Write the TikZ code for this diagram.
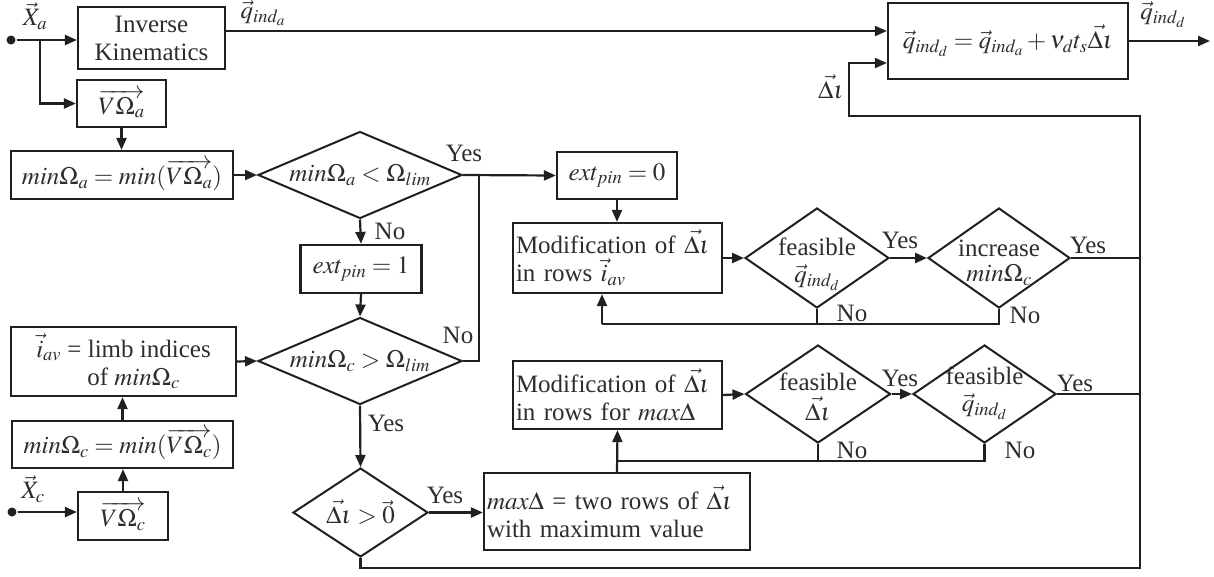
\documentclass[tikz,border=0pt]{standalone}
\usepackage{mathptmx}
\usepackage{fontspec}
\setmainfont{Liberation Serif}
\usetikzlibrary{arrows.meta,shapes.geometric,calc}
\definecolor{ln}{RGB}{35,31,32}
\definecolor{tx}{RGB}{45,45,45}
\newcommand\myfs{\fontsize{25}{28}\selectfont}
\begin{document}
\begin{tikzpicture}[x=1pt,y=-1pt,line width=2.2pt,
  box/.style={draw=ln,rectangle,inner sep=0pt,align=center,font=\myfs,text=tx},
  lbox/.style={box,align=left,text width=#1},
  dia/.style={draw=ln,diamond,inner sep=0pt,line width=2pt},
  lbl/.style={font=\myfs,text=tx,inner sep=0pt,align=center},
  arr/.style={draw=ln,-{Triangle[length=12pt,width=10pt]}},
  ln/.style={draw=ln},
  dot/.style={circle,fill=ln,inner sep=0pt,minimum size=9pt}]
\useasboundingbox (0,0) rectangle (1214,576);
% boxes
\node[box,minimum width=147pt,minimum height=62pt] (ik) at (151.5,38) {Inverse\\Kinematics};
\node[box,minimum width=89pt,minimum height=47pt] (voa) at (121.5,103.5) {$\overrightarrow{V\Omega_a}$};
\node[box,minimum width=222pt,minimum height=48pt] (minoa) at (122,175) {$min\Omega_a = min(\overrightarrow{V\Omega_a})$};
\node[box,minimum width=121pt,minimum height=48pt] (ext1) at (361,269) {$ext_{pin} = 1$};
\node[box,minimum width=225pt,minimum height=69pt] (iav) at (123.5,361.5) {$\vec{i}_{av}$ = limb indices\\\hspace*{20pt}of $min\Omega_c$};
\node[box,minimum width=221pt,minimum height=47pt] (minoc) at (122.5,444.5) {$min\Omega_c = min(\overrightarrow{V\Omega_c})$};
\node[box,minimum width=90pt,minimum height=48pt] (voc) at (123,516) {$\overrightarrow{V\Omega_c}$};
\node[box,minimum width=120pt,minimum height=47pt] (ext0) at (617,175.5) {$ext_{pin} = 0$};
\node[lbox=203pt,minimum width=209pt,minimum height=70pt] (mod1) at (617.5,258) {Modification of $\vec{\Delta\iota}$\\in rows $\vec{i}_{av}$};
\node[lbox=203pt,minimum width=209pt,minimum height=68pt] (mod2) at (617.5,395) {Modification of $\vec{\Delta\iota}$\\in rows for $max\Delta$};
\node[lbox=260pt,minimum width=266pt,minimum height=77pt] (maxd) at (617,511.5) {$max\Delta$ = two rows of $\vec{\Delta\iota}$\\with maximum value};
\node[box,minimum width=240pt,minimum height=76pt] (fin) at (1008,41) {$\vec{q}_{ind_d} = \vec{q}_{ind_a} + \nu_d t_s \vec{\Delta\iota}$};
% diamonds
\node[dia,minimum width=204pt,minimum height=87pt] (d1) at (360,175) {};
\node[lbl] at (d1) {$min\Omega_a < \Omega_{lim}$};
\node[dia,minimum width=204pt,minimum height=87pt] (d2) at (360,361) {};
\node[lbl] at (d2) {$min\Omega_c > \Omega_{lim}$};
\node[dia,minimum width=135pt,minimum height=89pt] (d3) at (360.5,512.5) {};
\node[lbl] at (d3) {$\vec{\Delta\iota} > \vec{0}$};
\node[dia,minimum width=144pt,minimum height=100pt] (f1) at (817,258) {};
\node[lbl] at ($(f1)+(0,6)$) {feasible\\[-1pt]$\vec{q}_{ind_d}$};
\node[dia,minimum width=142pt,minimum height=100pt] (inc) at (999,258) {};
\node[lbl] at ($(inc)+(0,5)$) {increase\\[-3pt]$min\Omega_c$};
\node[dia,minimum width=145pt,minimum height=98pt] (f2) at (818,394) {};
\node[lbl] at ($(f2)+(0,3)$) {feasible\\[2pt]$\vec{\Delta\iota}$};
\node[dia,minimum width=143pt,minimum height=98pt] (f3) at (984.5,394) {};
\node[lbl] at ($(f3)+(0,-1)$) {feasible\\[-1pt]$\vec{q}_{ind_d}$};
% dots
\node[dot] (xa) at (11,40) {};
\node[dot] (xc) at (12,512) {};
% coordinates
\coordinate (br) at (40,40);
\coordinate (y31) at (0,31);
\coordinate (out) at (1210,41);
\coordinate (j1) at (479,175);
\coordinate (r1) at (1140,258);
\coordinate (r2) at (1140,394);
\coordinate (c1) at (1140,568);
\coordinate (c2) at (1140,116);
\coordinate (c3) at (849,63);
\coordinate (n1) at (602,324);
\coordinate (n2) at (617,461);
% connectors
\draw[arr] (xa) -- (xa -| ik.west);
\draw[arr] (br) |- (voa.west);
\draw[arr] (voa.south) -- (voa.south |- minoa.north);
\draw[arr] (minoa.east) -- (d1.west);
\draw[arr] (d1.east) -- (ext0.west);
\draw[arr] (d1.south) -- (ext1.north);
\draw[arr] (ext1.south) -- (d2.north);
\draw[ln] (d2.east) -| (j1);
\draw[arr] (iav.east) -- (d2.west);
\draw[arr] (minoc.north) -- (minoc.north |- iav.south);
\draw[arr] (voc.north) -- (voc.north |- minoc.south);
\draw[arr] (xc) -- (xc -| voc.west);
\draw[arr] (d2.south) -- (d3.north);
\draw[arr] (d3.east) -- (d3.east -| maxd.west);
\draw[arr] (ik.east |- y31) -- (fin.west |- y31);
\draw[arr] (fin.east) -- (out);
\draw[arr] (ext0.south) -- (ext0.south |- mod1.north);
\draw[arr] (mod1.east) -- (f1.west);
\draw[arr] (f1.east) -- (inc.west);
\draw[ln] (inc.east) -- (r1);
\draw[ln] (inc.south) |- (n1);
\draw[arr] (n1) -- (n1 |- mod1.south);
\draw[ln] (f1.south) -- (f1.south |- n1);
\draw[arr] (mod2.east) -- (f2.west);
\draw[arr] (f2.east) -- (f3.west);
\draw[ln] (f3.east) -- (r2);
\draw[ln] (f3.south) |- (n2);
\draw[ln] (f2.south) -- (f2.south |- n2);
\draw[arr] (maxd.north) -- (mod2.south);
\draw[arr] (d3.south) |- (c1) -- (c2) -| (c3) -- (c3 -| fin.west);
% labels
\node[lbl] at (35,16) {$\vec{X}_a$};
\node[lbl] at (33,489) {$\vec{X}_c$};
\node[lbl] at (263,13) {$\vec{q}_{ind_a}$};
\node[lbl] at (1163,15) {$\vec{q}_{ind_d}$};
\node[lbl] at (831,87) {$\vec{\Delta\iota}$};
\node[lbl] at (464,153) {Yes};
\node[lbl] at (390,231) {No};
\node[lbl] at (458,335) {No};
\node[lbl] at (386,423) {Yes};
\node[lbl] at (445,495) {Yes};
\node[lbl] at (900,240) {Yes};
\node[lbl] at (1088,245) {Yes};
\node[lbl] at (852,313) {No};
\node[lbl] at (1025,315) {No};
\node[lbl] at (900,378) {Yes};
\node[lbl] at (1075,383) {Yes};
\node[lbl] at (852,450) {No};
\node[lbl] at (1020,450) {No};
\end{tikzpicture}
\end{document}
